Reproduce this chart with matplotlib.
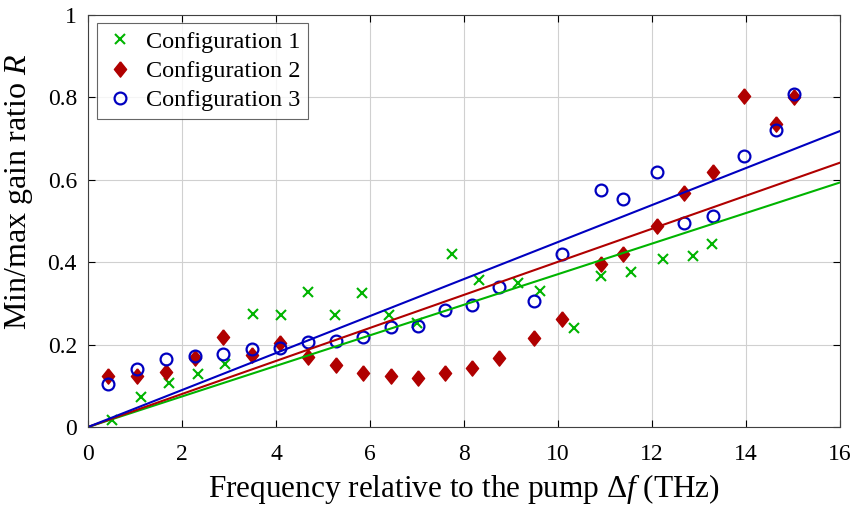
import numpy as np
import matplotlib
matplotlib.use("Agg")
import matplotlib.pyplot as plt

# --- Datos ---
x_conf1 = [0.50, 1.13, 1.73, 2.33, 2.92, 3.52, 4.11, 4.68, 5.26, 5.83, 6.41,
           6.99, 7.74, 8.32, 9.14, 9.61, 10.34, 10.92, 11.56, 12.23, 12.88, 13.27]
y_conf1 = [0.017, 0.073, 0.106, 0.128, 0.153, 0.275, 0.273, 0.327, 0.273, 0.326, 0.273,
           0.253, 0.421, 0.357, 0.350, 0.331, 0.241, 0.367, 0.377, 0.407, 0.416, 0.443]

x_conf23 = [0.42, 1.04, 1.66, 2.28, 2.88, 3.48, 4.09, 4.67, 5.27, 5.86, 6.45, 7.03,
            7.60, 8.17, 8.74, 9.49, 10.08, 10.91, 11.38, 12.10, 12.69, 13.30,
            13.96, 14.63, 15.02]
y_conf2 = [0.125, 0.124, 0.134, 0.167, 0.218, 0.176, 0.204, 0.169, 0.150, 0.130,
           0.124, 0.120, 0.130, 0.144, 0.167, 0.215, 0.263, 0.395, 0.420, 0.488,
           0.568, 0.620, 0.803, 0.735, 0.801]
y_conf3 = [0.104, 0.141, 0.165, 0.173, 0.178, 0.189, 0.192, 0.206, 0.209, 0.218,
           0.243, 0.245, 0.284, 0.295, 0.341, 0.307, 0.421, 0.576, 0.554, 0.618,
           0.494, 0.513, 0.658, 0.720, 0.808]

# pendientes de los ajustes lineales (por el origen)
pendientes = [0.0371, 0.0401, 0.0449]

plt.rcParams['font.family'] = 'Liberation Serif'
plt.rcParams['mathtext.fontset'] = 'custom'
plt.rcParams['mathtext.rm'] = 'Liberation Serif'
plt.rcParams['mathtext.it'] = 'Liberation Serif:italic'

verde = '#00b400'
rojo = '#b00000'
azul = '#0000c0'

# rombo un poco mas ancho que 'd'
rombo = [(0, 1), (0.8, 0), (0, -1), (-0.8, 0), (0, 1)]

fig = plt.figure(figsize=(8.57, 5.08), dpi=100)
ax = fig.add_axes([0.1027, 0.1594, 0.8775, 0.8111])

ax.plot(x_conf1, y_conf1, 'x', color=verde, ms=7.5, mew=1.5, label='Configuration 1')
ax.plot(x_conf23, y_conf2, marker=rombo, ls='none', color=rojo, ms=11, label='Configuration 2')
ax.plot(x_conf23, y_conf3, 'o', color=azul, mfc='none', ms=8.5, mew=1.6, label='Configuration 3')

xx = np.array([0, 16])
for p, c in zip(pendientes, [verde, rojo, azul]):
    ax.plot(xx, p * xx, color=c, lw=1.5)

ax.set_xlim(0, 16)
ax.set_ylim(0, 1)
ax.set_xticks(np.arange(0, 17, 2))
ax.set_yticks([0, 0.2, 0.4, 0.6, 0.8, 1])
ax.set_yticklabels(['0', '0.2', '0.4', '0.6', '0.8', '1'])
ax.grid(True, color='#d0d0d0', lw=0.8)
ax.tick_params(direction='in', top=True, right=True, labelsize=17, length=5)
ax.tick_params(axis='x', pad=12)
ax.tick_params(axis='y', pad=8)
for s in ax.spines.values():
    s.set_color('#404040')

ax.set_xlabel(r'Frequency relative to the pump $\Delta f$ (THz)', fontsize=22.5, labelpad=5)
ax.set_ylabel(r'Min/max gain ratio $R$', fontsize=23)
ax.yaxis.set_label_coords(-0.071, 0.57)

leg = ax.legend(loc='upper left', fontsize=17.5, fancybox=False, edgecolor='#404040',
                borderaxespad=0.35, handletextpad=0.45, labelspacing=0.3,
                borderpad=0.3, handlelength=1.3)
leg.get_frame().set_linewidth(0.8)

fig.savefig('out.png', dpi=100)
